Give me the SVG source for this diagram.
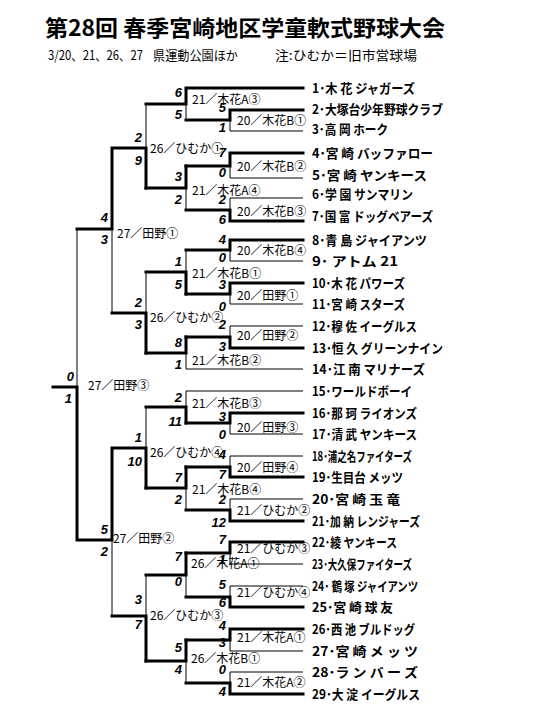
<svg xmlns="http://www.w3.org/2000/svg" width="540" height="720" viewBox="0 0 540 720">
<style>
.title{font-family:"Noto Sans CJK JP","Noto Sans",sans-serif;font-weight:bold;font-size:22px;fill:#000}
.sub{font-family:"Noto Sans CJK JP","Noto Sans",sans-serif;font-size:13px;fill:#000}
.tn{font-family:"Noto Sans CJK JP","Noto Sans",sans-serif;font-weight:bold;font-size:13px;fill:#000}
.ml{font-family:"Noto Sans CJK JP","Noto Sans",sans-serif;font-size:12px;fill:#000}
.sc{font-family:"Liberation Sans",Arial,sans-serif;font-weight:bold;font-style:italic;font-size:13px;fill:#000;text-anchor:end}
.th{stroke:#000;stroke-width:1;fill:none}
.tk{stroke:#000;stroke-width:3;fill:none;stroke-linecap:square;stroke-linejoin:miter}
</style>
<rect width="540" height="720" fill="#fff"/>
<g id="title">
<text class="title" x="45" y="36" textLength="400" lengthAdjust="spacingAndGlyphs">第28回 春季宮崎地区学童軟式野球大会</text>
<text class="sub" x="48" y="60" textLength="95" lengthAdjust="spacingAndGlyphs">3/20、21、26、27</text>
<text class="sub" x="153" y="60" textLength="85" lengthAdjust="spacingAndGlyphs">県運動公園ほか</text>
<text class="sub" x="275" y="60" textLength="142" lengthAdjust="spacingAndGlyphs">注:ひむか＝旧市営球場</text>
</g>
<g id="connectors">
<path class="th" d="M303,131H230M303,178H230M303,198H230M303,261H230M303,304H230M303,326H230M303,369H186M303,391H186M303,434H230M303,456H230M303,499H230M303,564H230M303,586H230M303,651H230M303,672H230"/>
<path class="th" d="M230,120V131M230,166V178M230,198V210M230,250V261M230,294V304M230,326V337M230,423V434M230,456V467M230,499V510M230,553V564M230,586V597M230,640V651M230,672V683"/>
<path class="th" d="M186,104V120M186,188V210M186,250V272M186,353V369M186,391V407M186,488V510M186,575V597M186,661V683"/>
<path class="th" d="M146,104V148M146,272V313M146,407V448M146,575V616M112,229V313M112,540V616M77,229V387"/>
<path class="tk" d="M303,110H230V120H186M303,153H230V166H186M303,221H230V210H186M303,240H230V250H186M303,283H230V294H186M303,348H230V337H186M303,413H230V423H186M303,477H230V467H186M303,521H230V510H186M303,542H230V553H186M303,607H230V597H186M303,629H230V640H186M303,694H230V683H186"/>
<path class="tk" d="M303,88H186V104H146M186,166V188H146M186,294V272H146M186,337V353H146M186,423V407H146M186,467V488H146M186,553V575H146M186,640V661H146"/>
<path class="tk" d="M146,188V148H112M146,353V313H112M146,488V448H112M146,661V616H112M112,148V229H77M112,448V540H77M77,540V387H53"/>
</g>
<g id="team-1"><text class="tn" x="312" y="93" textLength="103" lengthAdjust="spacingAndGlyphs">1･木 花 ジャガーズ</text></g>
<g id="team-2"><text class="tn" x="312" y="114" textLength="131" lengthAdjust="spacingAndGlyphs">2･大塚台少年野球クラブ</text></g>
<g id="team-3"><text class="tn" x="312" y="134" textLength="76" lengthAdjust="spacingAndGlyphs">3･高 岡 ホーク</text></g>
<g id="team-4"><text class="tn" x="312" y="158" textLength="121" lengthAdjust="spacingAndGlyphs">4･宮 崎 バッファロー</text></g>
<g id="team-5"><text class="tn" x="312" y="180" textLength="115" lengthAdjust="spacingAndGlyphs">5･宮 崎 ヤンキース</text></g>
<g id="team-6"><text class="tn" x="312" y="199" textLength="101" lengthAdjust="spacingAndGlyphs">6･学 園 サンマリン</text></g>
<g id="team-7"><text class="tn" x="312" y="221" textLength="121" lengthAdjust="spacingAndGlyphs">7･国 富 ドッグベアーズ</text></g>
<g id="team-8"><text class="tn" x="312" y="245" textLength="115" lengthAdjust="spacingAndGlyphs">8･青 島 ジャイアンツ</text></g>
<g id="team-9"><text class="tn" x="312" y="266" textLength="86" lengthAdjust="spacingAndGlyphs">9･ アトム 21</text></g>
<g id="team-10"><text class="tn" x="312" y="288" textLength="93" lengthAdjust="spacingAndGlyphs">10･木 花 パワーズ</text></g>
<g id="team-11"><text class="tn" x="312" y="309" textLength="93" lengthAdjust="spacingAndGlyphs">11･宮 崎 スターズ</text></g>
<g id="team-12"><text class="tn" x="312" y="331" textLength="105" lengthAdjust="spacingAndGlyphs">12･穆 佐 イーグルス</text></g>
<g id="team-13"><text class="tn" x="312" y="353" textLength="131" lengthAdjust="spacingAndGlyphs">13･恒 久 グリーンナイン</text></g>
<g id="team-14"><text class="tn" x="312" y="374" textLength="113" lengthAdjust="spacingAndGlyphs">14･江 南 マリナーズ</text></g>
<g id="team-15"><text class="tn" x="312" y="396" textLength="100" lengthAdjust="spacingAndGlyphs">15･ワールドボーイ</text></g>
<g id="team-16"><text class="tn" x="312" y="418" textLength="105" lengthAdjust="spacingAndGlyphs">16･那 珂 ライオンズ</text></g>
<g id="team-17"><text class="tn" x="312" y="439" textLength="105" lengthAdjust="spacingAndGlyphs">17･清 武 ヤンキース</text></g>
<g id="team-18"><text class="tn" x="312" y="461" textLength="100" lengthAdjust="spacingAndGlyphs">18･浦之名ファイターズ</text></g>
<g id="team-19"><text class="tn" x="312" y="482" textLength="91" lengthAdjust="spacingAndGlyphs">19･生目台 メッツ</text></g>
<g id="team-20"><text class="tn" x="312" y="504" textLength="88" lengthAdjust="spacingAndGlyphs">20･宮 崎 玉 竜</text></g>
<g id="team-21"><text class="tn" x="312" y="526" textLength="108" lengthAdjust="spacingAndGlyphs">21･加 納 レンジャーズ</text></g>
<g id="team-22"><text class="tn" x="312" y="547" textLength="85" lengthAdjust="spacingAndGlyphs">22･綾 ヤンキース</text></g>
<g id="team-23"><text class="tn" x="312" y="569" textLength="100" lengthAdjust="spacingAndGlyphs">23･大久保ファイターズ</text></g>
<g id="team-24"><text class="tn" x="312" y="591" textLength="106" lengthAdjust="spacingAndGlyphs">24･ 鶴 塚 ジャイアンツ</text></g>
<g id="team-25"><text class="tn" x="312" y="612" textLength="81" lengthAdjust="spacingAndGlyphs">25･宮 崎 球 友</text></g>
<g id="team-26"><text class="tn" x="312" y="634" textLength="103" lengthAdjust="spacingAndGlyphs">26･西 池 ブルドッグ</text></g>
<g id="team-27"><text class="tn" x="312" y="656" textLength="106" lengthAdjust="spacingAndGlyphs">27･宮 崎 メ ッ ツ</text></g>
<g id="team-28"><text class="tn" x="312" y="677" textLength="106" lengthAdjust="spacingAndGlyphs">28･ラ ン バ ー ズ</text></g>
<g id="team-29"><text class="tn" x="312" y="699" textLength="108" lengthAdjust="spacingAndGlyphs">29･大 淀 イーグルス</text></g>
<g id="m-20-kibanaB1"><text class="ml" x="237" y="125">20／木花B①</text><text class="sc" x="226" y="112">5</text><text class="sc" x="226" y="132">1</text></g>
<g id="m-20-kibanaB2"><text class="ml" x="237" y="171">20／木花B②</text><text class="sc" x="226" y="157">7</text><text class="sc" x="226" y="177">0</text></g>
<g id="m-20-kibanaB3"><text class="ml" x="237" y="216">20／木花B③</text><text class="sc" x="226" y="204">2</text><text class="sc" x="226" y="224">6</text></g>
<g id="m-20-kibanaB4"><text class="ml" x="237" y="255">20／木花B④</text><text class="sc" x="226" y="244">4</text><text class="sc" x="226" y="262">0</text></g>
<g id="m-20-tano1"><text class="ml" x="237" y="300">20／田野①</text><text class="sc" x="226" y="289">3</text><text class="sc" x="226" y="311">0</text></g>
<g id="m-20-tano2"><text class="ml" x="237" y="340">20／田野②</text><text class="sc" x="226" y="329">2</text><text class="sc" x="226" y="351">3</text></g>
<g id="m-20-tano3"><text class="ml" x="237" y="432">20／田野③</text><text class="sc" x="226" y="421">3</text><text class="sc" x="226" y="439">0</text></g>
<g id="m-20-tano4"><text class="ml" x="237" y="472">20／田野④</text><text class="sc" x="226" y="459">4</text><text class="sc" x="226" y="479">7</text></g>
<g id="m-21-himuka2"><text class="ml" x="237" y="515">21／ひむか②</text><text class="sc" x="226" y="504">2</text><text class="sc" x="226" y="527">12</text></g>
<g id="m-21-himuka3"><text class="ml" x="237" y="553">21／ひむか③</text><text class="sc" x="226" y="544">7</text><text class="sc" x="226" y="564">1</text></g>
<g id="m-21-himuka4"><text class="ml" x="237" y="597">21／ひむか④</text><text class="sc" x="226" y="589">5</text><text class="sc" x="226" y="607">6</text></g>
<g id="m-21-kibanaA1"><text class="ml" x="237" y="642">21／木花A①</text><text class="sc" x="226" y="630">4</text><text class="sc" x="226" y="647">3</text></g>
<g id="m-21-kibanaA2"><text class="ml" x="237" y="687">21／木花A②</text><text class="sc" x="226" y="674">0</text><text class="sc" x="226" y="696">4</text></g>
<g id="m-21-kibanaA3"><text class="ml" x="192" y="104">21／木花A③</text><text class="sc" x="182" y="97">6</text><text class="sc" x="182" y="119">5</text></g>
<g id="m-21-kibanaA4"><text class="ml" x="192" y="195">21／木花A④</text><text class="sc" x="182" y="181">3</text><text class="sc" x="182" y="204">2</text></g>
<g id="m-21-kibanaB1"><text class="ml" x="192" y="278">21／木花B①</text><text class="sc" x="182" y="266">1</text><text class="sc" x="182" y="289">5</text></g>
<g id="m-21-kibanaB2"><text class="ml" x="192" y="365">21／木花B②</text><text class="sc" x="182" y="347">8</text><text class="sc" x="182" y="369">1</text></g>
<g id="m-21-kibanaB3"><text class="ml" x="192" y="408">21／木花B③</text><text class="sc" x="182" y="402">2</text><text class="sc" x="182" y="426">11</text></g>
<g id="m-21-kibanaB4"><text class="ml" x="192" y="494">21／木花B④</text><text class="sc" x="182" y="482">7</text><text class="sc" x="182" y="504">2</text></g>
<g id="m-26-kibanaA1"><text class="ml" x="191" y="568">26／木花A①</text><text class="sc" x="182" y="561">7</text><text class="sc" x="182" y="586">0</text></g>
<g id="m-26-kibanaB1"><text class="ml" x="191" y="663">26／木花B①</text><text class="sc" x="182" y="652">5</text><text class="sc" x="182" y="674">4</text></g>
<g id="m-26-himuka1"><text class="ml" x="150" y="153">26／ひむか①</text><text class="sc" x="142" y="142">2</text><text class="sc" x="142" y="165">9</text></g>
<g id="m-26-himuka2"><text class="ml" x="150" y="322">26／ひむか②</text><text class="sc" x="142" y="307">2</text><text class="sc" x="142" y="329">3</text></g>
<g id="m-26-himuka4"><text class="ml" x="150" y="457">26／ひむか④</text><text class="sc" x="142" y="442">1</text><text class="sc" x="142" y="466">10</text></g>
<g id="m-26-himuka3"><text class="ml" x="150" y="620">26／ひむか③</text><text class="sc" x="142" y="604">3</text><text class="sc" x="142" y="629">7</text></g>
<g id="m-27-tano1"><text class="ml" x="117" y="238">27／田野①</text><text class="sc" x="108" y="222">4</text><text class="sc" x="108" y="244">3</text></g>
<g id="m-27-tano2"><text class="ml" x="113" y="543">27／田野②</text><text class="sc" x="108" y="534">5</text><text class="sc" x="108" y="556">2</text></g>
<g id="m-27-tano3"><text class="ml" x="88" y="390">27／田野③</text><text class="sc" x="74" y="381">0</text><text class="sc" x="72" y="403">1</text></g>
</svg>
